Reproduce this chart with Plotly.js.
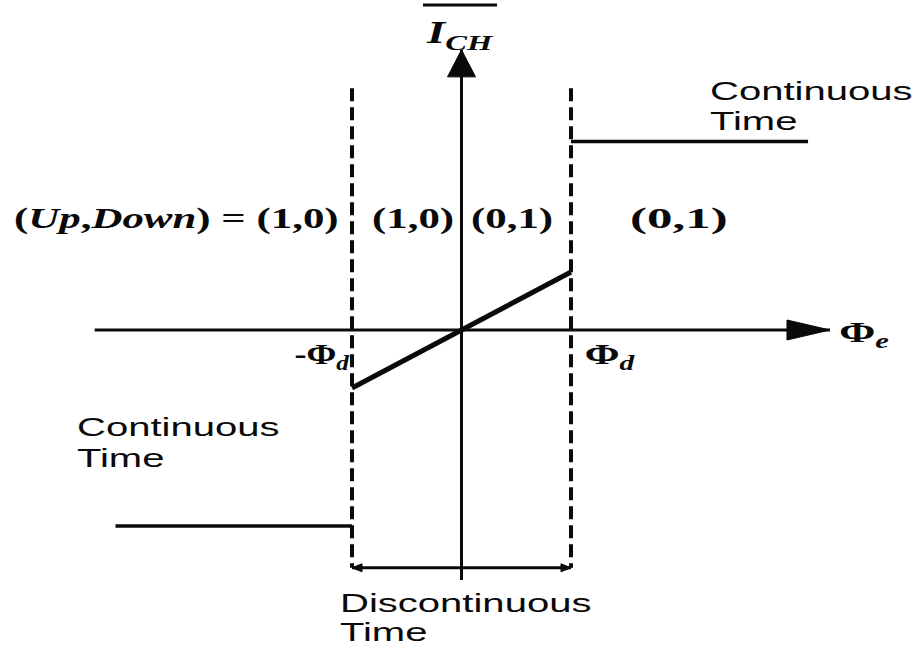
<!DOCTYPE html>
<html>
<head>
<meta charset="utf-8">
<script src="https://cdn.plot.ly/plotly-3.0.1.min.js"></script>
<style>
  html, body { margin: 0; padding: 0; background: #fff; }
  #chart { width: 916px; height: 646px; }
</style>
</head>
<body>
<div id="chart"></div>
<script>
// Average charge-pump current I_CH against phase error Φe for a PFD with a dead zone ±Φd.
// Phase is measured in units of Φd, current in units of the current reached at ±Φd.

// Linear (discontinuous-time) region between -Φd and Φd
const linearPhase   = [-1, 0, 1];
const linearCurrent = [-1, 0, 1];

// Continuous-time plateaus outside the dead zone
const ctHighPhase   = [1, 3.165];
const ctHighCurrent = [3.25, 3.25];
const ctLowPhase    = [-3.16, -1];
const ctLowCurrent  = [-3.38, -3.38];

// Dashed boundaries at Φe = -Φd and Φe = +Φd
const boundaryPhase   = [-1, 1];
const boundaryCurrent = [4.17, -4.10];

// Axes extents (tips carry the arrowheads)
const phaseAxis   = [-3.35, 3.365];
const currentAxis = [-4.31, 4.83];

// "Discontinuous Time" span marker
const spanPhase = [-1, 1];
const spanLevel = -4.10;

// Region labels (Up, Down) for each phase band
const regionLabels = ['(<i>Up</i>,<i>Down</i>) = (1,0)', '(1,0)', '(0,1)', '(0,1)'];

// ---------- drawing ----------
const W = 916, H = 646;
const X_UNIT = 109.5, Y_UNIT = 58;     // pixels per unit
const X0 = 461.5, Y0 = 330;           // pixel position of the origin
const xRange = [-X0 / X_UNIT, (W - X0) / X_UNIT];
const yRange = [-(H - Y0) / Y_UNIT, Y0 / Y_UNIT];

const INK = '#0a0a0a';
const SANS = 'Liberation Sans';
const SERIF = 'Liberation Serif';

function line(x, y, width, dash) {
  return {
    type: 'scatter', mode: 'lines', x: x, y: y, hoverinfo: 'skip',
    line: { color: INK, width: width, dash: dash || 'solid' }
  };
}

const traces = [
  line(phaseAxis, [0, 0], 3),
  line([0, 0], currentAxis, 3),
  line(spanPhase, [spanLevel, spanLevel], 3),
  line([boundaryPhase[0], boundaryPhase[0]], boundaryCurrent, 4, '13px,6px'),
  line([boundaryPhase[1], boundaryPhase[1]], boundaryCurrent, 4, '13px,6px'),
  line(linearPhase, linearCurrent, 5),
  line(ctHighPhase, ctHighCurrent, 3.5),
  line(ctLowPhase, ctLowCurrent, 3.5)
];

// Filled triangular arrowhead in data coordinates; len/half given in pixels
function arrowHead(tipX, tipY, dir, len, half) {
  const lx = len / X_UNIT, ly = len / Y_UNIT;
  const hx = half / X_UNIT, hy = half / Y_UNIT;
  let pts;
  if (dir === 'up')    pts = [[tipX, tipY], [tipX - hx, tipY - ly], [tipX + hx, tipY - ly]];
  if (dir === 'right') pts = [[tipX, tipY], [tipX - lx, tipY + hy], [tipX - lx, tipY - hy]];
  if (dir === 'left')  pts = [[tipX, tipY], [tipX + lx, tipY + hy], [tipX + lx, tipY - hy]];
  const d = 'M' + pts.map(p => p[0] + ',' + p[1]).join(' L') + ' Z';
  return { type: 'path', xref: 'x', yref: 'y', path: d, fillcolor: INK, line: { color: INK, width: 1 } };
}

const shapes = [
  arrowHead(0, currentAxis[1], 'up', 27, 14),
  arrowHead(phaseAxis[1], 0, 'right', 43, 10),
  arrowHead(spanPhase[0], spanLevel, 'left', 10, 4),
  arrowHead(spanPhase[1], spanLevel, 'right', 10, 4),
  // bar over I_CH
  { type: 'line', xref: 'paper', yref: 'paper',
    x0: 423 / W, x1: 497 / W, y0: 1 - 5 / H, y1: 1 - 5 / H,
    line: { color: INK, width: 3 } }
];

// Text placed by pixel position; stretch = horizontal scale of the glyphs
const stretches = [];
function label(text, px, py, font, anchor, stretch) {
  stretches.push(stretch);
  return {
    xref: 'paper', yref: 'paper', x: px / W, y: 1 - py / H,
    text: text, showarrow: false,
    xanchor: anchor || 'center', yanchor: 'middle', align: 'left',
    font: Object.assign({ color: INK }, font)
  };
}
const sansFont  = { family: SANS, size: 26 };
const serifBold = { family: SERIF, size: 30, weight: 'bold' };
const symFont   = { family: SERIF, size: 30, weight: 'bold' };

const annotations = [
  label('<i>I<sub>CH</sub></i>', 460, 35, { family: SERIF, size: 31, weight: 'bold' }, 'center', 1.5),
  label(regionLabels[0], 12, 218, serifBold, 'left', 1.43),
  label(regionLabels[1], 370, 218, serifBold, 'left', 1.43),
  label(regionLabels[2], 469, 218, serifBold, 'left', 1.43),
  label(regionLabels[3], 628, 218, serifBold, 'left', 1.7),
  label('-Φ<i><sub>d</sub></i>', 322, 356, symFont, 'center', 1.2),
  label('Φ<i><sub>d</sub></i>', 610, 356, symFont, 'center', 1.4),
  label('Φ<i><sub>e</sub></i>', 864, 334, symFont, 'center', 1.45),
  label('Continuous', 708, 91, sansFont, 'left', 1.54),
  label('Time', 708, 121, sansFont, 'left', 1.54),
  label('Continuous', 75, 427, sansFont, 'left', 1.54),
  label('Time', 75, 458, sansFont, 'left', 1.54),
  label('Discontinuous', 338, 603, sansFont, 'left', 1.54),
  label('Time', 338, 632, sansFont, 'left', 1.54)
];

const hidden = { visible: false, fixedrange: true };
const layout = {
  width: W, height: H,
  margin: { l: 0, r: 0, t: 0, b: 0, pad: 0 },
  paper_bgcolor: '#ffffff', plot_bgcolor: '#ffffff',
  showlegend: false,
  xaxis: Object.assign({ range: xRange }, hidden),
  yaxis: Object.assign({ range: yRange }, hidden),
  shapes: shapes,
  annotations: annotations
};

Plotly.newPlot('chart', traces, layout, { staticPlot: true, displayModeBar: false }).then(function (gd) {
  // widen the lettering horizontally, keeping each label's anchor point in place
  gd.querySelectorAll('g.annotation').forEach(function (g) {
    const i = +g.getAttribute('data-index');
    const t = g.querySelector('text.annotation-text');
    if (!t || !stretches[i]) return;
    const bb = t.getBBox();
    const ox = annotations[i].xanchor === 'left' ? bb.x : bb.x + bb.width / 2;
    const s = stretches[i];
    t.setAttribute('transform', 'matrix(' + s + ',0,0,1,' + (ox - s * ox) + ',0)');
  });
  // drop empty placeholder text nodes left by the hidden axes and traces
  gd.querySelectorAll('svg text').forEach(function (t) {
    if (!t.textContent.trim()) t.remove();
  });
});
</script>
</body>
</html>
